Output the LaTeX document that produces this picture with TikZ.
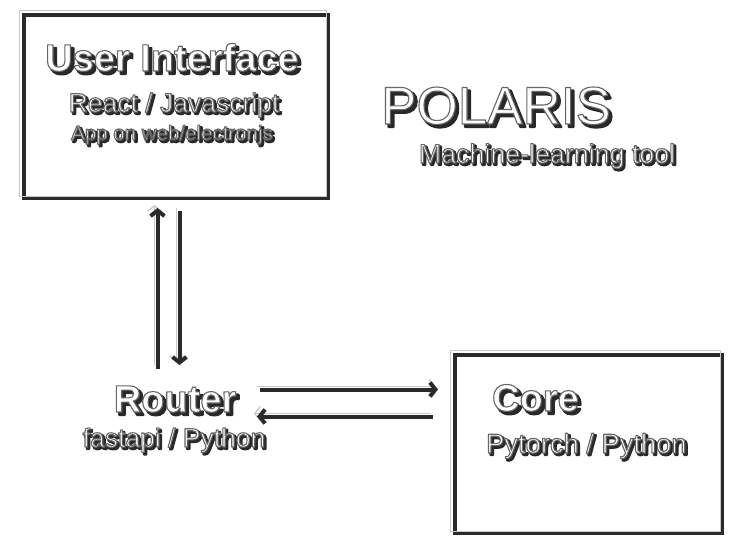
\documentclass[tikz,border=0pt]{standalone}
\usepackage{fontspec}
\setmainfont{Liberation Sans}
\usetikzlibrary{arrows.meta}
\definecolor{shd}{HTML}{2A2A2A}
\definecolor{edg}{HTML}{6A6A6A}
\definecolor{lite}{HTML}{C8C8C8}
\newcommand{\embtxt}[2][2pt]{\leavevmode
 \rlap{\kern#1\raisebox{-#1}{\color{shd}\special{pdf:literal direct 0.16 G 2.2 w 1 j 2 Tr}#2\special{pdf:literal direct 0 Tr}}}%
 {\color{white}\special{pdf:literal direct 0.40 G 1.1 w 1 j 2 Tr}#2\special{pdf:literal direct 0 Tr}}}
\tikzset{
  txt/.style={inner sep=0pt, anchor=base},
  big/.style={font=\fontsize{38}{40}\selectfont\bfseries},
  mid/.style={font=\fontsize{26.5}{28}\selectfont},
  small/.style={font=\fontsize{20.5}{22}\selectfont},
  emtip/.style={-{Straight Barb[length=5.5pt,width=14pt]}},
  box/.style={draw=shd, line width=3.2pt, fill=white, inner sep=0pt},
  litebox/.style={draw=lite, line width=1pt},
}
\newcommand{\emarrow}[2]{%
  \draw[lite, line width=1.2pt, emtip] (#1) -- (#2);
  \draw[shd, line width=4pt, emtip, transform canvas={shift={(3pt,-3pt)}}] (#1) -- (#2);
}
\begin{document}
\begin{tikzpicture}[x=1pt,y=-1pt]
\useasboundingbox[fill=white] (0,0) rectangle (735,545);
% boxes
\node[box, minimum width=304pt, minimum height=183pt] (ui) at (176,106.5) {};
\draw[litebox] ([shift={(-3pt,3pt)}]ui.north west) rectangle ([shift={(-3pt,3pt)}]ui.south east);
\node[box, minimum width=267pt, minimum height=178pt] (core) at (588.5,444) {};
\draw[litebox] ([shift={(-3pt,3pt)}]core.north west) rectangle ([shift={(-3pt,3pt)}]core.south east);
% texts
\node[txt, big] (uit) at (172,71) {\embtxt[3pt]{User Interface}};
\node[txt, mid] (uis) at (174,112) {\embtxt[2pt]{React / Javascript}};
\node[txt, small] (uia) at (172,140) {\embtxt[2pt]{App on web/electronjs}};
\node[txt, font=\fontsize{53}{55}\selectfont] (pol) at (496,124) {\embtxt[3pt]{POLARIS}};
\node[txt, mid, font=\fontsize{26.8}{28}\selectfont] (polm) at (547,163) {\embtxt[2pt]{Machine-learning tool}};
\node[txt, big] (rt) at (175,412) {\embtxt[3pt]{Router}};
\node[txt, mid] (rts) at (174,447) {\embtxt[2pt]{fastapi / Python}};
\node[txt, big, anchor=base west] (cr) at (492,411) {\embtxt[3pt]{Core}};
\node[txt, mid, font=\fontsize{27.3}{28}\selectfont, anchor=base west] (crs) at (486,453) {\embtxt[2pt]{Pytorch / Python}};
% connectors
\coordinate (upA) at (154.5,366); \coordinate (upB) at (154.5,205);
\coordinate (dnA) at (176.5,208); \coordinate (dnB) at (176.5,362);
\coordinate (rtA) at (257,386.5); \coordinate (rtB) at (435,386.5);
\coordinate (ltA) at (430,413.5); \coordinate (ltB) at (254,413.5);
\emarrow{upA}{upB}
\emarrow{dnA}{dnB}
\emarrow{rtA}{rtB}
\emarrow{ltA}{ltB}
\end{tikzpicture}
\end{document}
